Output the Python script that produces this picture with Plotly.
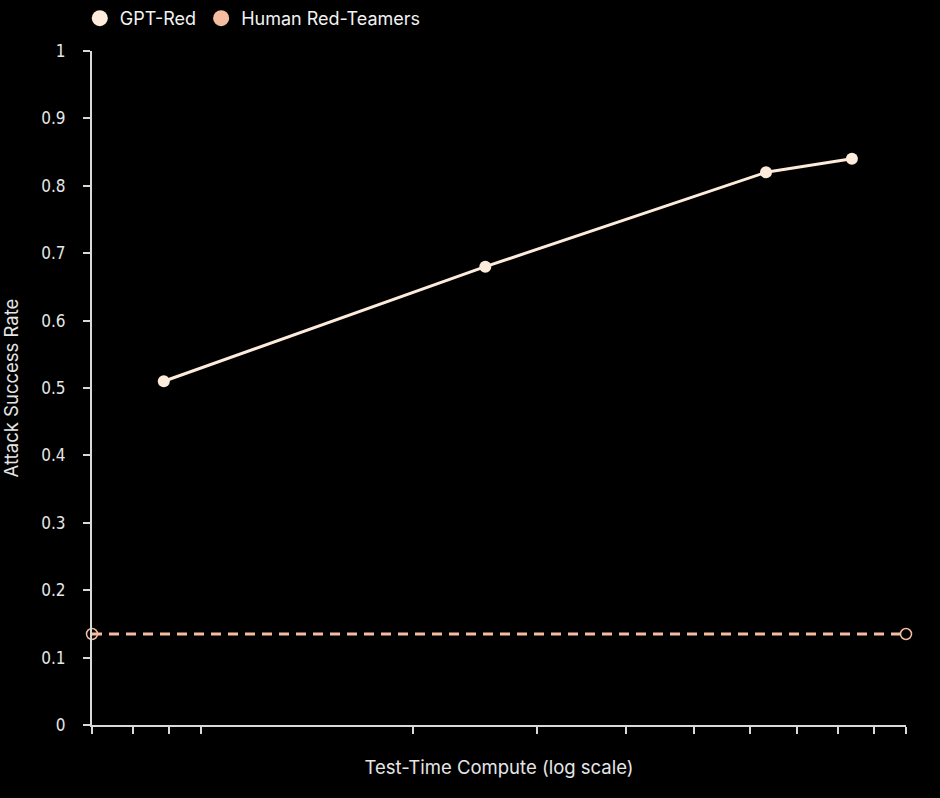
import plotly.graph_objects as go

# Data (x in arbitrary compute units, log scale)
gpt_x = [0.885, 2.53, 6.33, 8.38]
gpt_y = [0.51, 0.68, 0.82, 0.84]
human_x = [0.7, 10]
human_y = [0.135, 0.135]
x_tickvals = [0.7, 0.8, 0.9, 1, 2, 3, 4, 5, 6, 7, 8, 9, 10]
y_tickvals = [0, 0.1, 0.2, 0.3, 0.4, 0.5, 0.6, 0.7, 0.8, 0.9, 1]

GPT_COLOR = "#fdecdc"
HUMAN_COLOR = "#f6bc9f"
AXIS_COLOR = "#d9d9d9"
TEXT_COLOR = "#e6e6e6"

fig = go.Figure()

fig.add_trace(go.Scatter(
    x=human_x, y=human_y, mode="lines+markers",
    line=dict(color=HUMAN_COLOR, width=3, dash="10px,7px"),
    marker=dict(symbol="circle-open", size=11, color=HUMAN_COLOR, line=dict(width=1.5)),
    showlegend=False, cliponaxis=False, hoverinfo="skip"))

fig.add_trace(go.Scatter(
    x=gpt_x, y=gpt_y, mode="lines+markers",
    line=dict(color=GPT_COLOR, width=3),
    marker=dict(size=12, color=GPT_COLOR),
    showlegend=False, cliponaxis=False))

# legend entries
fig.add_trace(go.Scatter(x=[None], y=[None], mode="markers", name="GPT-Red",
                         marker=dict(size=16, color=GPT_COLOR)))
fig.add_trace(go.Scatter(x=[None], y=[None], mode="markers", name="Human Red-Teamers",
                         marker=dict(size=16, color=HUMAN_COLOR)))

fig.update_layout(
    width=940, height=798,
    paper_bgcolor="black", plot_bgcolor="black",
    margin=dict(l=92, r=34, t=51, b=73, autoexpand=False),
    font=dict(family="Inter, Roboto, sans-serif", color=TEXT_COLOR, size=18),
    legend=dict(orientation="h", x=-0.015, xanchor="left",
                yref="container", y=1.0, yanchor="top",
                font=dict(size=18, color="#f2f2f2"), itemwidth=30,
                bgcolor="rgba(0,0,0,0)", traceorder="normal"),
    showlegend=True,
)

fig.update_xaxes(
    type="log", range=[-0.154902, 1.0],
    tickvals=x_tickvals, showticklabels=False,
    ticks="outside", ticklen=7, tickcolor=AXIS_COLOR, tickwidth=1.5,
    showline=True, linecolor=AXIS_COLOR, linewidth=2,
    showgrid=False, zeroline=False,
    title=dict(text="Test-Time Compute (log scale)", font=dict(size=18.5, color=TEXT_COLOR), standoff=28),
)
fig.update_yaxes(
    range=[0, 1], tickvals=y_tickvals,
    ticks="outside", ticklen=7, tickcolor=AXIS_COLOR, tickwidth=1.5,
    showline=True, linecolor=AXIS_COLOR, linewidth=2,
    showgrid=False, zeroline=False, ticklabelstandoff=14,
    tickfont=dict(family="DejaVu Sans Condensed, DejaVu Sans", size=17, color=TEXT_COLOR),
    title=dict(text="Attack Success Rate", font=dict(size=18.5, color=TEXT_COLOR), standoff=18),
)

fig.write_html("out.html")
